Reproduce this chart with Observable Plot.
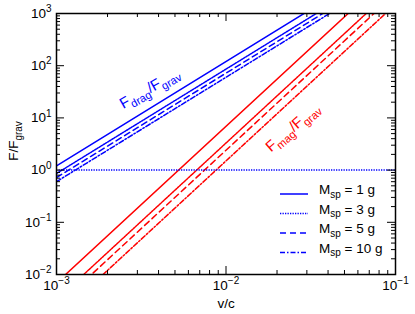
<!DOCTYPE html>
<html><head><meta charset="utf-8">
<script src="https://cdn.jsdelivr.net/npm/d3@7"></script>
<script src="https://cdn.jsdelivr.net/npm/@observablehq/plot@0.6"></script>
<style>
body{margin:0;background:#fff;}
#chart{position:relative;width:415px;height:314px;font-family:"Liberation Sans",Arial,Helvetica,sans-serif;}
#legend{position:absolute;left:0;top:0;pointer-events:none;}
</style></head><body><div id="chart"></div>
<script>
// ---- data ----
const masses = [1, 3, 5, 10];
const massLabels = ["M_{sp} = 1 g", "M_{sp} = 3 g", "M_{sp} = 5 g", "M_{sp} = 10 g"];
const vEnds = [0.001, 0.1];                     // v/c at the two ends of each straight line
const dragStart = [1.2, 0.86, 0.72, 0.60];      // F_drag/F_grav at v/c = 1e-3
const dragEnd = [12000, 8600, 7200, 6000];      // F_drag/F_grav at v/c = 1e-1
const magStart = [0.0069, 0.0033, 0.0024, 0.0015]; // F_mag/F_grav at v/c = 1e-3
const magEnd = [6900, 3300, 2400, 1500];        // F_mag/F_grav at v/c = 1e-1
const unityLevel = [1];
const xTicks = [0.001, 0.01, 0.1];
const yTicks = [0.01, 0.1, 1, 10, 100, 1000];
const labelDrag = "F_{drag}/F_{grav}";
const labelMag = "F_{mag}/F_{grav}";
const yLabel = "F/F_{grav}";
const xLabel = "v/c";

// ---- styles ----
const BLUE = "#0000ff", RED = "#ff0000";
const dashes = [undefined, "1.3,1.2", "6,4", "5,2,1.5,2"];
const W = 415, H = 314, mL = 56, mR = 20, mT = 13, mB = 40;
const fw = W - mL - mR, fh = H - mT - mB;

const minor = (majors) => {
  const out = [];
  for (let i = 0; i < majors.length - 1; i++) for (let k = 2; k <= 9; k++) out.push(majors[i] * k);
  return out;
};
const xMinor = minor(xTicks), yMinor = minor(yTicks);
const fmt = d => `10^{${Math.round(Math.log10(d))}}`;

const marks = [];
masses.forEach((m, i) => {
  const drag = vEnds.map((v, j) => ({v, f: j ? dragEnd[i] : dragStart[i]}));
  const mag = vEnds.map((v, j) => ({v, f: j ? magEnd[i] : magStart[i]}));
  marks.push(Plot.line(drag, {x: "v", y: "f", stroke: BLUE, strokeWidth: 1.5, strokeDasharray: dashes[i], clip: true}));
  marks.push(Plot.line(mag, {x: "v", y: "f", stroke: RED, strokeWidth: 1.5, strokeDasharray: dashes[i], clip: true}));
});
marks.push(Plot.ruleY(unityLevel, {stroke: BLUE, strokeWidth: 1.5, strokeDasharray: "1.3,1.2"}));

// inward ticks on all four sides
marks.push(
  Plot.tickX(xTicks, {x: d => d, insetTop: fh - 8, stroke: "black", strokeWidth: 1}),
  Plot.tickX(xTicks, {x: d => d, insetBottom: fh - 8, stroke: "black", strokeWidth: 1}),
  Plot.tickX(xMinor, {x: d => d, insetTop: fh - 4, stroke: "black", strokeWidth: 1}),
  Plot.tickX(xMinor, {x: d => d, insetBottom: fh - 4, stroke: "black", strokeWidth: 1}),
  Plot.tickY(yTicks, {y: d => d, insetRight: fw - 8, stroke: "black", strokeWidth: 1}),
  Plot.tickY(yTicks, {y: d => d, insetLeft: fw - 8, stroke: "black", strokeWidth: 1}),
  Plot.tickY(yMinor, {y: d => d, insetRight: fw - 4, stroke: "black", strokeWidth: 1}),
  Plot.tickY(yMinor, {y: d => d, insetLeft: fw - 4, stroke: "black", strokeWidth: 1}),
  Plot.frame({stroke: "black", strokeWidth: 1.5}),
  Plot.axisX(xTicks, {tickSize: 0, tickPadding: 6, tickFormat: fmt, label: null, fontSize: 13.5}),
  Plot.axisY(yTicks, {tickSize: 0, tickPadding: 5, tickFormat: fmt, label: null, fontSize: 13.5}),
  Plot.text([labelDrag], {x: () => 0.00354, y: () => 37, text: d => d, rotate: -30, fill: BLUE, fontSize: 15, textAnchor: "middle", lineAnchor: "middle"}),
  Plot.text([labelMag], {x: () => 0.0247, y: () => 6.6, text: d => d, rotate: -41, fill: RED, fontSize: 15, textAnchor: "middle", lineAnchor: "middle"}),
  Plot.text([yLabel], {text: d => d, frameAnchor: "left", dx: -43, dy: -3, rotate: -90, fontSize: 13.5, textAnchor: "middle", lineAnchor: "middle", fill: "black"}),
  Plot.text([xLabel], {text: d => d, frameAnchor: "bottom", dy: 29, fontSize: 13.5, textAnchor: "middle", lineAnchor: "middle", fill: "black"})
);

const svg = Plot.plot({
  width: W, height: H,
  marginLeft: mL, marginRight: mR, marginTop: mT, marginBottom: mB,
  x: {type: "log", domain: [0.001, 0.1], label: null, axis: null},
  y: {type: "log", domain: [0.01, 1000], label: null, axis: null},
  style: {fontFamily: '"Liberation Sans", Arial, Helvetica, sans-serif', fontSize: "13px", color: "black", background: "white"},
  marks
});
const chart = document.getElementById("chart");
chart.appendChild(svg);

// legend overlay
const NS = "http://www.w3.org/2000/svg";
const leg = document.createElementNS(NS, "svg");
leg.setAttribute("id", "legend");
leg.setAttribute("width", W); leg.setAttribute("height", H);
leg.style.fontFamily = '"Liberation Sans", Arial, Helvetica, sans-serif';
leg.style.fontSize = "13.5px";
const rowY = [194, 213.5, 233, 252.5];
massLabels.forEach((lab, i) => {
  const ln = document.createElementNS(NS, "line");
  ln.setAttribute("x1", 280); ln.setAttribute("x2", 308);
  ln.setAttribute("y1", rowY[i]); ln.setAttribute("y2", rowY[i]);
  ln.setAttribute("stroke", BLUE); ln.setAttribute("stroke-width", 1.5);
  if (dashes[i]) ln.setAttribute("stroke-dasharray", dashes[i]);
  leg.appendChild(ln);
  const t = document.createElementNS(NS, "text");
  t.setAttribute("x", 319); t.setAttribute("y", rowY[i]); t.setAttribute("dy", "0.36em");
  t.setAttribute("fill", "black");
  t.textContent = lab;
  leg.appendChild(t);
});
chart.appendChild(leg);

// rich text: ^{...} superscript, _{...} subscript
function rich(el) {
  const s = el.textContent;
  if (!/[\^_]\{/.test(s)) return;
  const fs = parseFloat(getComputedStyle(el).fontSize) || 13;
  while (el.firstChild) el.removeChild(el.firstChild);
  const re = /([\^_])\{([^}]*)\}|([^\^_]+)/g;
  let m, cur = 0;
  while ((m = re.exec(s))) {
    const t = document.createElementNS(NS, "tspan");
    let target = 0, txt, size = fs;
    if (m[1]) {
      txt = m[2].replace(/-/g, "\u2212");
      size = fs * 0.74;
      target = m[1] === "^" ? -fs * 0.42 : fs * 0.28;
    } else txt = m[3];
    t.setAttribute("dy", (target - cur).toFixed(2));
    cur = target;
    t.setAttribute("font-size", size.toFixed(2));
    t.textContent = txt;
    el.appendChild(t);
  }
}
chart.querySelectorAll("text").forEach(rich);
</script></body></html>
